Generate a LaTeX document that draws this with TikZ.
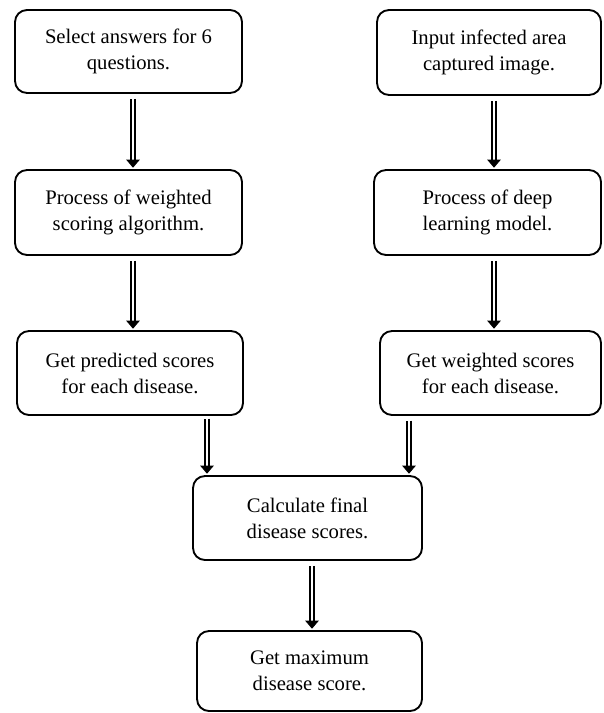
\documentclass[tikz,border=0pt]{standalone}
\usepackage{fontspec}
\setmainfont{Liberation Serif}
\usetikzlibrary{arrows.meta}
\begin{document}
\begin{tikzpicture}[x=0.75pt,y=-0.75pt,
  box/.style={draw=black, line width=1.4pt, rounded corners=9pt, align=center,
    font=\fontsize{15.5}{19.5}\selectfont, inner sep=0pt},
  harrow/.style={draw=black, line width=0.8pt, double=white, double distance=2.2pt,
    -{Triangle[length=6pt, width=10pt]}}
]
\useasboundingbox (0,0) rectangle (603,713);
\node[box, minimum width=170.25pt, minimum height=62.25pt] (b1) at (128.5,51.5) {Select answers for 6\\questions.};
\node[box, minimum width=170.25pt, minimum height=63.75pt] (b2) at (128.5,212.5) {Process of weighted\\scoring algorithm.};
\node[box, minimum width=169.5pt, minimum height=63pt] (b3) at (130,373) {Get predicted scores\\for each disease.};
\node[box, minimum width=168pt, minimum height=63.75pt] (r1) at (489,52.5) {Input infected area\\captured image.};
\node[box, minimum width=170.25pt, minimum height=63.75pt] (r2) at (487.5,212.5) {Process of deep\\learning model.};
\node[box, minimum width=165.75pt, minimum height=63pt] (r3) at (490.5,373) {Get weighted scores\\for each disease.};
\node[box, minimum width=171.75pt, minimum height=63pt] (c) at (307.5,518) {Calculate final\\disease scores.};
\node[box, minimum width=168.75pt, minimum height=60pt] (m) at (309.5,671) {Get maximum\\disease score.};
\draw[harrow, shorten <=3.75pt, shorten >=1pt] (b1.south -| 133,0) -- (b2.north -| 133,0);
\draw[harrow, shorten <=3.75pt, shorten >=1pt] (r1.south -| 494,0) -- (r2.north -| 494,0);
\draw[harrow, shorten <=3.75pt, shorten >=1pt] (b2.south -| 133,0) -- (b3.north -| 133,0);
\draw[harrow, shorten <=3.75pt, shorten >=1pt] (r2.south -| 494,0) -- (r3.north -| 494,0);
\draw[harrow, shorten <=2pt, shorten >=1pt] (b3.south -| 207,0) -- (c.north -| 207,0);
\draw[harrow, shorten <=3.5pt, shorten >=1pt] (r3.south -| 409,0) -- (c.north -| 409,0);
\draw[harrow, shorten <=3.75pt, shorten >=1pt] (c.south -| 312,0) -- (m.north -| 312,0);
\end{tikzpicture}
\end{document}
